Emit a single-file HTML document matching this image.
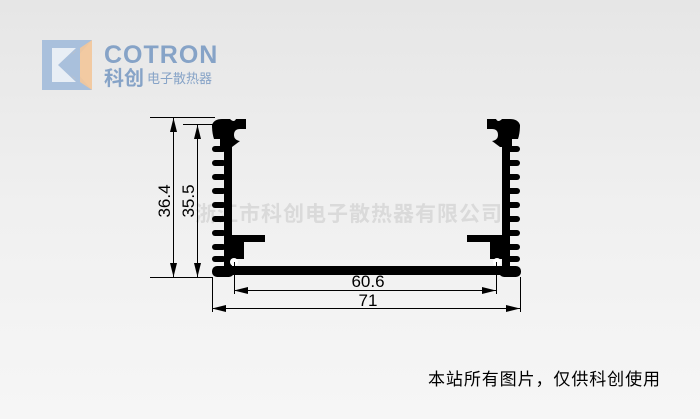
<!DOCTYPE html>
<html><head><meta charset="utf-8"><style>
html,body{margin:0;padding:0}
body{width:700px;height:419px;overflow:hidden;background:linear-gradient(180deg,#e6e6e6 0%,#f0f0f0 50%,#f6f6f6 100%);font-family:"Liberation Sans","Noto Sans CJK SC",sans-serif;position:relative}
</style></head><body>
<svg width="700" height="419" style="position:absolute;left:0;top:0">
<!-- logo -->
<polygon points="42,40 92,40 70,65 92,90 42,90" fill="#a9c0dc"/>
<polygon points="52,48 76,48 58,65 76,82 52,82" fill="#e8eef5"/>
<polygon points="74,52 92,40 92,90 74,78 62,65" fill="#f3c79a" opacity="0.9"/>
<polygon points="60,65 80,47 80,83" fill="#a9c0dc"/>
<text x="104" y="63" font-size="25" font-weight="bold" fill="#86a3c7" font-family="Liberation Sans,sans-serif" letter-spacing="1">COTRON</text>
<text x="104" y="85" font-size="20" font-weight="bold" fill="#86a3c7" font-family="Noto Sans CJK SC,sans-serif">科创</text>
<text x="147" y="83" font-size="13" fill="#86a3c7" font-family="Noto Sans CJK SC,sans-serif">电子散热器</text>
<!-- watermark -->
<text x="195" y="221" font-size="21" font-weight="bold" fill="#dadada" font-family="Noto Sans CJK SC,sans-serif" letter-spacing="1">浙江市科创电子散热器有限公司</text>
<g fill="#000">
<rect x="230" y="266" width="272" height="9"/>
<rect x="224" y="130" width="8" height="140"/>
<path d="M212,125 q2,-6 10,-6 h8 q4,4 6,0 h10 v10 h-6 q-6,0 -6,6 q0,5 6,6 l-8,6 h-12 v-8 h-6 q-2,-6 -2,-14z"/>
<rect x="212" y="266" width="22" height="11" rx="5"/>
<rect x="224" y="235" width="20" height="24"/>
<rect x="230" y="235" width="35" height="7"/>
<rect x="212" y="146" width="14" height="6" rx="3"/>
<rect x="212" y="160" width="14" height="6" rx="3"/>
<rect x="212" y="174" width="14" height="6" rx="3"/>
<rect x="212" y="188" width="14" height="6" rx="3"/>
<rect x="212" y="202" width="14" height="6" rx="3"/>
<rect x="212" y="216" width="14" height="6" rx="3"/>
<rect x="212" y="230" width="14" height="6" rx="3"/>
<rect x="212" y="244" width="14" height="6" rx="3"/>
<rect x="212" y="256" width="14" height="6" rx="3"/>
<rect x="502" y="130" width="8" height="140"/>
<path d="M520,125 q-2,-6 -10,-6 h-8 q-4,4 -6,0 h-9 v10 h5 q6,0 6,6 q0,5 -6,6 l8,6 h12 v-8 h6 q2,-6 2,-14z"/>
<rect x="499" y="266" width="22" height="11" rx="5"/>
<rect x="490" y="235" width="20" height="24"/>
<rect x="467" y="235" width="35" height="7"/>
<rect x="506" y="146" width="14" height="6" rx="3"/>
<rect x="506" y="160" width="14" height="6" rx="3"/>
<rect x="506" y="174" width="14" height="6" rx="3"/>
<rect x="506" y="188" width="14" height="6" rx="3"/>
<rect x="506" y="202" width="14" height="6" rx="3"/>
<rect x="506" y="216" width="14" height="6" rx="3"/>
<rect x="506" y="230" width="14" height="6" rx="3"/>
<rect x="506" y="244" width="14" height="6" rx="3"/>
<rect x="506" y="256" width="14" height="6" rx="3"/>
</g>
<g fill="#fff"><circle cx="234" cy="262" r="4"/><circle cx="497" cy="262" r="4"/></g>
<g stroke="#000" stroke-width="1" fill="none">
<line x1="150" y1="117.5" x2="215" y2="117.5"/>
<line x1="150" y1="277.5" x2="212" y2="277.5"/>
<line x1="183" y1="124.5" x2="215" y2="124.5"/>
<line x1="173.5" y1="118" x2="173.5" y2="277"/>
<line x1="197.5" y1="125" x2="197.5" y2="277"/>
<line x1="212.5" y1="277" x2="212.5" y2="312"/>
<line x1="520.5" y1="277" x2="520.5" y2="312"/>
<line x1="234.5" y1="262" x2="234.5" y2="294"/>
<line x1="496.5" y1="262" x2="496.5" y2="294"/>
<line x1="234" y1="290.5" x2="496" y2="290.5"/>
<line x1="212" y1="308.5" x2="520" y2="308.5"/>
</g>
<g fill="#000">
<polygon points="173.5,118 170,132 177,132"/><polygon points="173.5,277 170,263 177,263"/>
<polygon points="197.5,125 194,139 201,139"/><polygon points="197.5,277 194,263 201,263"/>
<polygon points="234,290.5 248,287 248,294"/><polygon points="496,290.5 482,287 482,294"/>
<polygon points="212,308.5 226,305 226,312"/><polygon points="520,308.5 506,305 506,312"/>
</g>
<g font-size="17" fill="#000" font-family="Liberation Sans,sans-serif">
<text transform="translate(170,201) rotate(-90)" text-anchor="middle">36.4</text>
<text transform="translate(194,201) rotate(-90)" text-anchor="middle">35.5</text>
<text x="368" y="287" text-anchor="middle">60.6</text>
<text x="368" y="306" text-anchor="middle">71</text>
</g>
<text x="428" y="385" font-size="17" fill="#000" font-family="Noto Sans CJK SC,sans-serif" textLength="232">本站所有图片，仅供科创使用</text>
</svg>
</body></html>
